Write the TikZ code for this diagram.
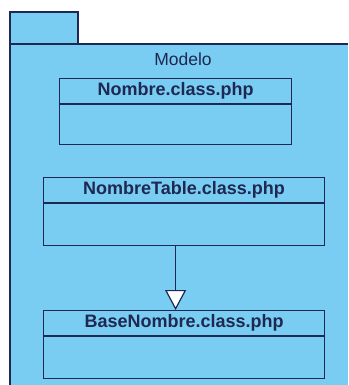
\documentclass[tikz,border=0pt]{standalone}
\usepackage{fontspec}
\setmainfont{Liberation Sans}
\usetikzlibrary{arrows.meta,positioning}

\definecolor{pkgfill}{RGB}{122,205,242}
\definecolor{umlline}{RGB}{30,40,82}

\tikzset{
  classhead/.style={draw=umlline, line width=1.2pt, fill=pkgfill, inner sep=0pt,
    minimum height=25pt, text=umlline, font=\fontsize{18}{20}\selectfont\bfseries},
  classbody/.style={draw=umlline, line width=1.2pt, fill=pkgfill, inner sep=0pt},
  inherit/.style={draw=umlline, line width=1.2pt,
    -{Triangle[open,fill=white,length=20pt,width=21pt,line width=1.2pt]}}
}

\begin{document}
\begin{tikzpicture}[x=1pt,y=-1pt]
		\useasboundingbox (0,0) rectangle (348,385);
		
		% package tab and body (body runs off the right and bottom edges)
		\fill[white] (0,0) rectangle (348,385);
		\draw[umlline,line width=1.2pt,fill=pkgfill] (10,12) rectangle (78,44);
		\fill[pkgfill] (10,44) rectangle (348,385);
		\draw[umlline,line width=1.2pt] (10,385) -- (10,44) -- (348,44);
		\node[text=umlline,font=\fontsize{17.5}{19}\selectfont] (modelo) at (183,59) {Modelo};
		
		% classes: name compartment + empty body
		\node[classhead,minimum width=232pt,anchor=north west] (nombre) at (59,78) {Nombre.class.php};
		\node[classbody,minimum width=232pt,minimum height=40pt,below=0pt of nombre] (nombre-body) {};
		
		\node[classhead,minimum width=281pt,anchor=north west] (tabla) at (43,177) {NombreTable.class.php};
		\node[classbody,minimum width=281pt,minimum height=42pt,below=0pt of tabla] (tabla-body) {};
		
		\node[classhead,minimum width=281pt,anchor=north west] (base) at (43,310) {BaseNombre.class.php};
		\node[classbody,minimum width=281pt,minimum height=42pt,below=0pt of base] (base-body) {};
		
		% generalisation
		\draw[inherit] (tabla-body.south -| nombre) -- (base.north -| nombre);
	\end{tikzpicture}
\end{document}
